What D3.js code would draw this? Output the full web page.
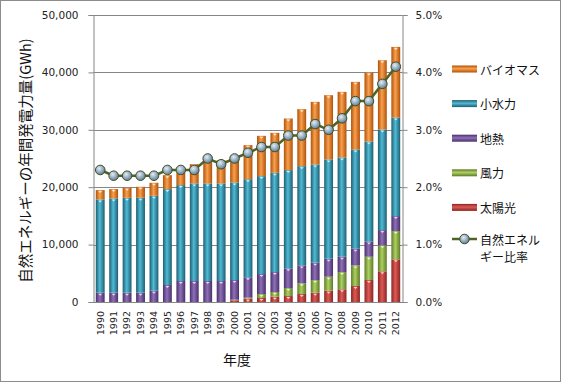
<!DOCTYPE html>
<html>
<head>
<meta charset="utf-8">
<script src="https://cdn.jsdelivr.net/npm/d3@7"></script>
<style>
  body { margin: 0; background: #fff; }
  svg { display: block; }
</style>
</head>
<body>
<div id="chart"></div>
<script>
const years = ["1990","1991","1992","1993","1994","1995","1996","1997","1998","1999","2000","2001",
  "2002","2003","2004","2005","2006","2007","2008","2009","2010","2011","2012"];
const solar   = [0,0,0,0,0,0,0,0,0,0,300,580,700,930,1040,1390,1620,1970,2210,2790,3830,5340,7430];
const wind    = [0,0,0,0,0,0,0,0,0,0,100,170,690,810,1400,1860,2210,2440,3010,3590,4060,4530,4930];
const geo     = [1620,1620,1620,1620,1970,2960,3660,3660,3660,3660,3430,3550,3480,3480,3420,3130,3020,3130,2670,2900,2670,2660,2610];
const hydro   = [16250,16430,16540,16540,16530,16710,16710,17000,17000,17000,17000,17100,17060,17290,17120,17290,17110,17300,17300,17300,17410,17530,17180];
const biomass = [1630,1620,1740,1910,2270,2430,2130,3360,4240,4040,4620,5930,7020,6960,8990,9930,10910,11190,11420,11770,12010,12060,12290];
const ratio   = [2.3,2.2,2.2,2.2,2.2,2.3,2.3,2.3,2.5,2.4,2.5,2.6,2.7,2.7,2.9,2.9,3.1,3.0,3.2,3.5,3.5,3.8,4.1];
const leftTicks  = [0,10000,20000,30000,40000,50000];
const rightTicks = [0,1,2,3,4,5];

const series = [
  {key: "solar",   name: "太陽光",   values: solar,   dark: "#8c2522", light: "#dc5a55"},
  {key: "wind",    name: "風力",     values: wind,    dark: "#5f7a2a", light: "#acd060"},
  {key: "geo",     name: "地熱",     values: geo,     dark: "#4a2f6a", light: "#8e70b8"},
  {key: "hydro",   name: "小水力",   values: hydro,   dark: "#1f5e70", light: "#4fbbd6"},
  {key: "biomass", name: "バイオマス", values: biomass, dark: "#b05206", light: "#f9a050"}
];

const W = 561, H = 382;
const m = {left: 93.5, right: 402.5, top: 15, bottom: 302};

const svg = d3.select("#chart").append("svg")
  .attr("width", W).attr("height", H);

// gradients for the cylinder look
const defs = svg.append("defs");
series.forEach(s => {
  const g = defs.append("linearGradient").attr("id", "g-" + s.key)
    .attr("x1", "0%").attr("x2", "100%").attr("y1", "0%").attr("y2", "0%");
  g.append("stop").attr("offset", "0%").attr("stop-color", s.dark);
  g.append("stop").attr("offset", "45%").attr("stop-color", s.light);
  g.append("stop").attr("offset", "100%").attr("stop-color", s.dark);
  const lg = defs.append("linearGradient").attr("id", "lg-" + s.key)
    .attr("x1", "0%").attr("x2", "0%").attr("y1", "0%").attr("y2", "100%");
  lg.append("stop").attr("offset", "0%").attr("stop-color", s.dark);
  lg.append("stop").attr("offset", "45%").attr("stop-color", s.light);
  lg.append("stop").attr("offset", "100%").attr("stop-color", s.dark);
});
const mg = defs.append("radialGradient").attr("id", "marker")
  .attr("cx", "40%").attr("cy", "35%").attr("r", "65%");
mg.append("stop").attr("offset", "0%").attr("stop-color", "#e4edf5");
mg.append("stop").attr("offset", "100%").attr("stop-color", "#5d7d98");

// outer frame
svg.append("rect").attr("x", 0.5).attr("y", 0.5).attr("width", W - 1).attr("height", H - 1)
  .attr("fill", "#fff").attr("stroke", "#8c8c8c");

const x = d3.scaleBand().domain(years).range([m.left, m.right]).paddingInner(0.34).paddingOuter(0.17);
const y = d3.scaleLinear().domain([0, 50000]).range([m.bottom, m.top]);
const y2 = d3.scaleLinear().domain([0, 5]).range([m.bottom, m.top]);

// grid
svg.append("g").selectAll("line").data(leftTicks.slice(1)).join("line")
  .attr("x1", m.left).attr("x2", m.right)
  .attr("y1", d => Math.round(y(d)) + 0.5).attr("y2", d => Math.round(y(d)) + 0.5)
  .attr("stroke", "#868686");

// left axis
const yAxis = svg.append("g")
  .attr("transform", `translate(${m.left},0)`)
  .call(d3.axisLeft(y).tickValues(leftTicks).tickFormat(d3.format(",")).tickSize(5).tickPadding(10));
yAxis.select(".domain").attr("stroke", "#868686");
yAxis.selectAll(".tick line").attr("stroke", "#868686");
yAxis.selectAll("text").attr("font-family", "DejaVu Sans").attr("font-size", 10.5).attr("fill", "#222");

// right axis
const y2Axis = svg.append("g")
  .attr("transform", `translate(${m.right},0)`)
  .call(d3.axisRight(y2).tickValues(rightTicks).tickFormat(d => d.toFixed(1) + "%").tickSize(5).tickPadding(8));
y2Axis.select(".domain").attr("stroke", "#868686");
y2Axis.selectAll(".tick line").attr("stroke", "#868686");
y2Axis.selectAll("text").attr("font-family", "DejaVu Sans").attr("font-size", 10.5).attr("fill", "#222");

// bottom axis
const xAxis = svg.append("g")
  .attr("transform", `translate(0,${m.bottom})`)
  .call(d3.axisBottom(x).tickSize(0).tickPadding(0));
xAxis.select(".domain").attr("stroke", "#868686");
xAxis.selectAll("text")
  .attr("font-family", "DejaVu Sans").attr("font-size", 9.5).attr("fill", "#222")
  .attr("transform", "rotate(-90)")
  .attr("text-anchor", "end").attr("dy", "0.35em")
  .attr("x", -9).attr("y", 0);

// stacked bars
const table = years.map((yr, i) => {
  const row = {year: yr};
  series.forEach(s => row[s.key] = s.values[i]);
  return row;
});
const stack = d3.stack().keys(series.map(s => s.key))(table);
const bw = x.bandwidth();
stack.forEach((layer, li) => {
  const s = series[li];
  const g = svg.append("g");
  g.selectAll("rect").data(layer).join("rect")
    .attr("x", d => x(d.data.year))
    .attr("width", bw)
    .attr("y", d => y(d[1]))
    .attr("height", d => Math.max(0, y(d[0]) - y(d[1])))
    .attr("fill", `url(#g-${s.key})`);
  // small highlight at the top of each segment
  g.selectAll("path").data(layer.filter(d => y(d[0]) - y(d[1]) > 3)).join("path")
    .attr("d", d => {
      const cx = x(d.data.year) + bw / 2, ty = y(d[1]) + 1;
      return `M${cx - 2},${ty} L${cx + 2},${ty} L${cx},${ty + 2} Z`;
    })
    .attr("fill", "#fff").attr("opacity", 0.75);
});

// ratio line
const cx = d => x(d) + bw / 2;
svg.append("path").datum(ratio)
  .attr("fill", "none").attr("stroke", "#4f6228").attr("stroke-width", 2.5)
  .attr("d", d3.line().x((d, i) => cx(years[i])).y(d => y2(d)));
svg.append("g").selectAll("circle").data(ratio).join("circle")
  .attr("cx", (d, i) => cx(years[i])).attr("cy", d => y2(d)).attr("r", 4.8)
  .attr("fill", "url(#marker)").attr("stroke", "#3e4f22").attr("stroke-width", 1);

// axis titles
svg.append("text")
  .attr("transform", `translate(24,${(m.top + m.bottom) / 2 + 2}) rotate(-90)`)
  .attr("text-anchor", "middle").attr("dominant-baseline", "central")
  .attr("font-family", "Noto Sans CJK JP").attr("font-size", 14.5).attr("fill", "#111")
  .text("自然エネルギーの年間発電力量(GWh)");
svg.append("text")
  .attr("x", 237).attr("y", 365).attr("text-anchor", "middle")
  .attr("font-family", "Noto Sans CJK JP").attr("font-size", 14).attr("fill", "#111")
  .text("年度");

// legend
const legendItems = series.slice().reverse();
const lg = svg.append("g");
legendItems.forEach((s, i) => {
  const ly = 69 + i * 34.6;
  lg.append("rect").attr("x", 452).attr("y", ly - 3.5).attr("width", 25).attr("height", 7)
    .attr("fill", `url(#lg-${s.key})`);
  lg.append("text").attr("x", 480).attr("y", ly).attr("dominant-baseline", "central")
    .attr("font-family", "Noto Sans CJK JP").attr("font-size", 12).attr("fill", "#111")
    .text(s.name);
});
const ry = 69 + 5 * 34.6 - 3;
lg.append("line").attr("x1", 452).attr("x2", 477).attr("y1", ry).attr("y2", ry)
  .attr("stroke", "#4f6228").attr("stroke-width", 2.5);
lg.append("circle").attr("cx", 464.5).attr("cy", ry).attr("r", 4.8)
  .attr("fill", "url(#marker)").attr("stroke", "#3e4f22");
lg.append("text").attr("x", 480).attr("y", ry).attr("dominant-baseline", "central")
  .attr("font-family", "Noto Sans CJK JP").attr("font-size", 12).attr("fill", "#111")
  .text("自然エネル");
lg.append("text").attr("x", 480).attr("y", ry + 17).attr("dominant-baseline", "central")
  .attr("font-family", "Noto Sans CJK JP").attr("font-size", 12).attr("fill", "#111")
  .text("ギー比率");
</script>
</body>
</html>
